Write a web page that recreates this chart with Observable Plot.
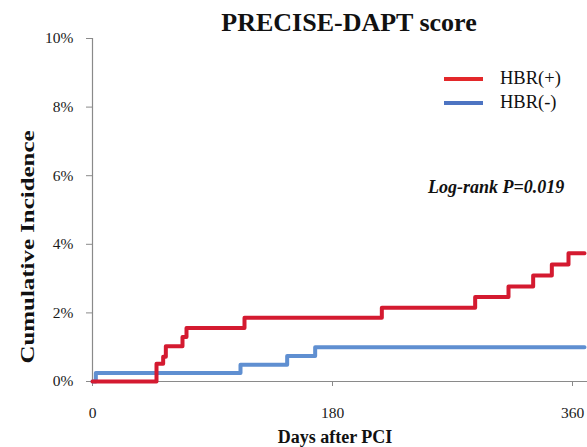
<!DOCTYPE html>
<html><head><meta charset="utf-8">
<script src="https://cdn.jsdelivr.net/npm/d3@7"></script>
<script src="https://cdn.jsdelivr.net/npm/@observablehq/plot@0.6"></script>
<style>
body{margin:0;background:#fff;}
#wrap{position:relative;width:587px;height:447px;font-family:"Liberation Serif","Times New Roman",serif;color:#111;}
.ov{position:absolute;white-space:nowrap;}
#title{left:92px;width:514px;top:10px;text-align:center;font-weight:bold;font-size:26px;line-height:26px;}
.sw{position:absolute;width:39px;height:4px;}
.lt{font-size:18.5px;line-height:18px;}
#lr{font-weight:bold;font-style:italic;font-size:18px;line-height:18px;left:428px;top:178px;}
#ylab{left:27px;top:247px;transform:translate(-50%,-50%) rotate(-90deg) scaleX(1.31);font-weight:bold;font-size:19px;line-height:19px;}
#xlab{left:335px;top:437px;transform:translate(-50%,-50%);font-weight:bold;font-size:18px;line-height:18px;}
</style></head>
<body><div id="wrap"></div>
<script>
// Data
const seriesNames = ["HBR(+)", "HBR(-)"];
const redDays   = [0, 48, 53, 55, 67.5, 70.5, 114, 217, 287, 312, 330.5, 344.5, 357, 369];
const redInc    = [0, 0.52, 0.72, 1.03, 1.3, 1.56, 1.86, 2.15, 2.46, 2.77, 3.09, 3.41, 3.74, 3.74];
const blueDays  = [0, 2.5, 111, 146, 167, 369];
const blueInc   = [0, 0.25, 0.49, 0.74, 1.0, 1.0];
const xTicks = [0, 180, 360];
const yTicks = [0, 2, 4, 6, 8, 10];
const redColor = "#d41a30", blueColor = "#5f8fd1";

const red = redDays.map((d, i) => ({day: d, inc: redInc[i]}));
const blue = blueDays.map((d, i) => ({day: d, inc: blueInc[i]}));

const chart = Plot.plot({
  width: 587, height: 447,
  marginLeft: 92, marginRight: 0, marginTop: 38, marginBottom: 66,
  style: {fontFamily: "'Liberation Serif','Times New Roman',serif", fontSize: "15.5px", color: "#1a1a1a", background: "white", overflow: "visible"},
  x: {domain: [0, 371.25], ticks: xTicks, tickSize: 5, tickPadding: 20, label: null},
  y: {domain: [0, 10], ticks: yTicks, tickFormat: d => d + "%", tickSize: 6, tickPadding: 13, label: null},
  marks: [
    Plot.ruleY([0], {stroke: "#8a8a8a", strokeWidth: 1.2}),
    Plot.ruleX([0], {stroke: "#8a8a8a", strokeWidth: 1.2}),
    Plot.line(blue, {x: "day", y: "inc", curve: "step-after", stroke: blueColor, strokeWidth: 4}),
    Plot.line(red, {x: "day", y: "inc", curve: "step-after", stroke: redColor, strokeWidth: 4})
  ]
});
d3.select(chart).selectAll("g[aria-label$='tick']").attr("stroke", "#8a8a8a");

const wrap = document.getElementById("wrap");
wrap.appendChild(chart);
function ov(html, id, style) {
  const el = document.createElement("div");
  el.className = "ov"; if (id) el.id = id;
  if (style) el.style.cssText = style;
  el.innerHTML = html; wrap.appendChild(el); return el;
}
ov("PRECISE-DAPT score", "title");
ov("Cumulative Incidence", "ylab");
ov("Days after PCI", "xlab");
ov("<i>Log-rank P=0.019</i>", "lr");
const legColors = ["#e3282a", "#4d74c2"];
seriesNames.forEach((n, i) => {
  const y = 79 + i * 24;
  const sw = document.createElement("div");
  sw.className = "sw"; sw.style.left = "444px"; sw.style.top = (y - 2) + "px"; sw.style.background = legColors[i];
  wrap.appendChild(sw);
  ov(n, null, `left:500px;top:${y - 10}px;`).classList.add("lt");
});
</script>
</body></html>
